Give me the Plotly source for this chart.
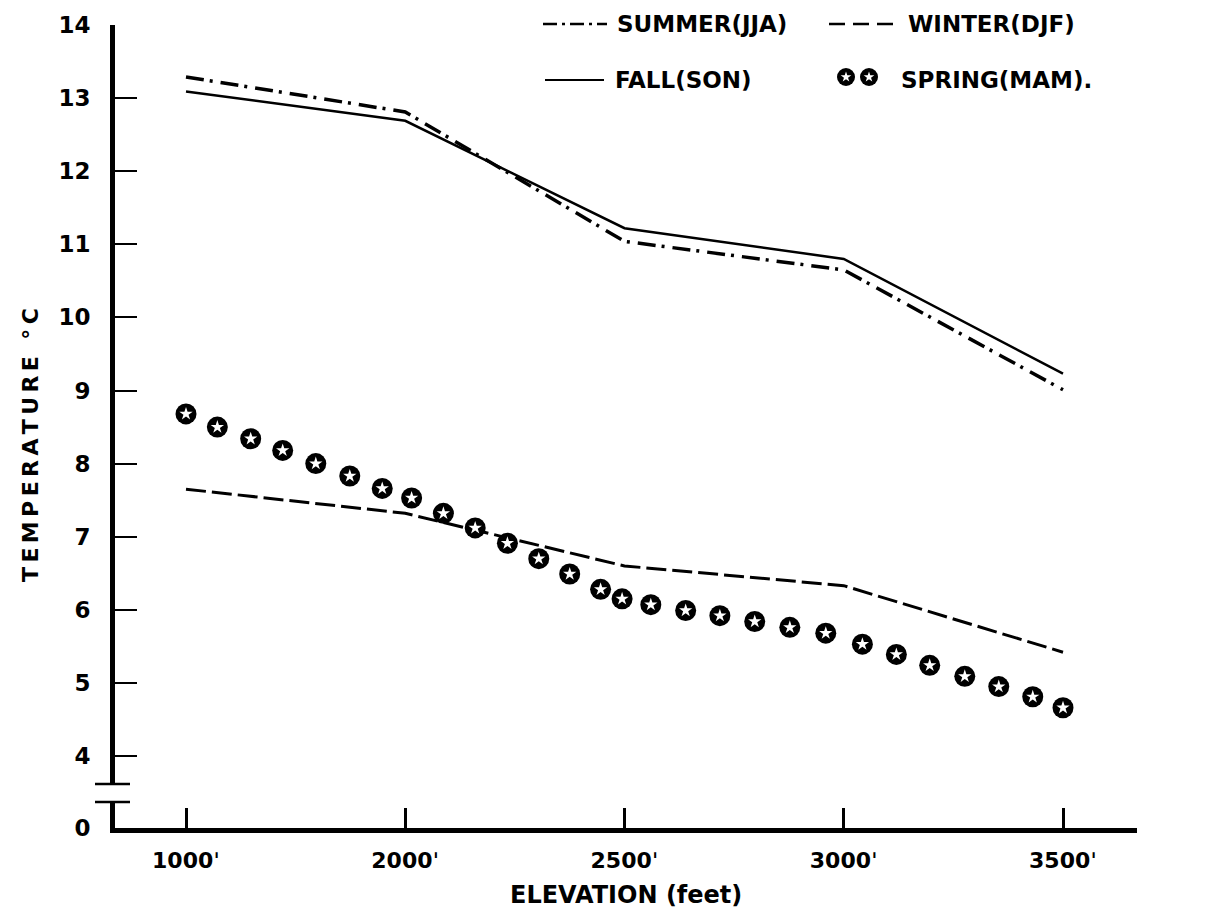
import plotly.graph_objects as go

# Elevation stations (equally spaced along the axis)
elev_labels = ["1000ˈ", "2000ˈ", "2500ˈ", "3000ˈ", "3500ˈ"]
elev_pos = [0, 1, 2, 3, 4]

# Seasonal mean temperatures (deg C) at each station
summer_jja = [13.29, 12.81, 11.04, 10.65, 9.01]
fall_son = [13.09, 12.69, 11.22, 10.80, 9.23]
winter_djf = [7.65, 7.32, 6.60, 6.33, 5.42]

# Spring curve, plotted as a string of symbols along the axis
spring_pos = [0.0, 0.143, 0.295, 0.441, 0.592, 0.747, 0.895, 1.029, 1.174, 1.319,
              1.466, 1.609, 1.750, 1.891, 1.989, 2.120, 2.279, 2.435, 2.594, 2.754,
              2.918, 3.085, 3.240, 3.392, 3.552, 3.707, 3.862, 4.0]
spring_mam = [8.68, 8.50, 8.34, 8.18, 8.00, 7.83, 7.66, 7.53, 7.32, 7.12,
              6.91, 6.70, 6.49, 6.28, 6.15, 6.07, 5.99, 5.92, 5.84, 5.76,
              5.68, 5.53, 5.39, 5.24, 5.09, 4.95, 4.81, 4.66]

y_ticks = [4, 5, 6, 7, 8, 9, 10, 11, 12, 13, 14]

FONT = "DejaVu Sans, Verdana, sans-serif"
W, H = 1221, 911
L, R, T, B = 115, 84, 25, 83
PW, PH = W - L - R, H - T - B

def px_x(px):
    return (px - L) / PW

def px_y(py):
    return (H - B - py) / PH

def spaced(text, gap="\u2009"):
    # open up the lettering of a title
    return gap.join(text)

fig = go.Figure()

fig.add_trace(go.Scatter(
    x=elev_pos, y=summer_jja, mode="lines", name="SUMMER(JJA)",
    line=dict(color="black", width=3.5, dash="18px,6px,3px,8px"),
    xaxis="x", yaxis="y"))
fig.add_trace(go.Scatter(
    x=elev_pos, y=fall_son, mode="lines", name="FALL(SON)",
    line=dict(color="black", width=2.5),
    xaxis="x", yaxis="y"))
fig.add_trace(go.Scatter(
    x=elev_pos, y=winter_djf, mode="lines", name="WINTER(DJF)",
    line=dict(color="black", width=3, dash="20px,6px"),
    xaxis="x", yaxis="y"))
fig.add_trace(go.Scatter(
    x=spring_pos, y=spring_mam, mode="markers", name="SPRING(MAM)",
    marker=dict(symbol="circle", size=21, color="black", line=dict(width=0)),
    xaxis="x", yaxis="y", cliponaxis=False))
fig.add_trace(go.Scatter(
    x=spring_pos, y=spring_mam, mode="markers", showlegend=False,
    marker=dict(symbol="star", size=10, color="white", line=dict(width=0)),
    xaxis="x", yaxis="y", cliponaxis=False))

# Lower stub of the broken temperature axis (carries the 0 label)
fig.add_trace(go.Scatter(
    x=[elev_pos[0]], y=[0], mode="markers", showlegend=False,
    marker=dict(size=1, opacity=0), hoverinfo="skip",
    xaxis="x", yaxis="y2"))

# Key glyphs for spring (two starred circles), drawn on a full-area overlay axis
key_x = [px_x(846), px_x(869)]
key_y = [px_y(80), px_y(80)]
fig.add_trace(go.Scatter(
    x=key_x, y=key_y, mode="markers", showlegend=False,
    marker=dict(symbol="circle", size=18, color="black"),
    xaxis="x3", yaxis="y3", cliponaxis=False))
fig.add_trace(go.Scatter(
    x=key_x, y=key_y, mode="markers", showlegend=False,
    marker=dict(symbol="star", size=8, color="white"),
    xaxis="x3", yaxis="y3", cliponaxis=False))

break_frac = px_y(784)
low_top = px_y(802)
upper_bottom_val = 14 - (784 - T) / 73.1

fig.update_layout(
    width=W, height=H,
    margin=dict(l=L, r=R, t=T, b=B),
    paper_bgcolor="white", plot_bgcolor="white",
    showlegend=False,
    font=dict(family=FONT, color="black", size=22, weight="bold"),
    xaxis=dict(
        domain=[0, 1], anchor="y2",
        range=[(L - 186) / 219.25, (W - R - 186) / 219.25],
        tickvals=elev_pos, ticktext=elev_labels,
        ticks="inside", ticklen=20, tickwidth=2.5, tickcolor="black",
        showline=True, linewidth=5, linecolor="black",
        showgrid=False, zeroline=False,
        tickfont=dict(size=22, family=FONT, weight="bold"),
        ticklabelstandoff=9,
    ),
    yaxis=dict(
        domain=[break_frac, 1], anchor="x",
        range=[upper_bottom_val, 14],
        tickvals=y_ticks, ticktext=[str(v) for v in y_ticks],
        ticks="inside", ticklen=22, tickwidth=2, tickcolor="black",
        showline=True, linewidth=5, linecolor="black",
        showgrid=False, zeroline=False,
        tickfont=dict(size=23, family=FONT, weight="bold"),
        ticklabelstandoff=15,
    ),
    yaxis2=dict(
        domain=[0, low_top], anchor="x",
        range=[0, (828 - 802) / 73.1],
        tickvals=[0], ticktext=["0"], ticks="",
        showline=True, linewidth=5, linecolor="black",
        showgrid=False, zeroline=False,
        tickfont=dict(size=23, family=FONT, weight="bold"),
        ticklabelstandoff=15,
    ),
    xaxis3=dict(domain=[0, 1], range=[0, 1], visible=False, overlaying="x",
                anchor="y3"),
    yaxis3=dict(domain=[0, 1], range=[0, 1], visible=False, overlaying="y",
                anchor="x3"),
)

shapes = []
# axis break marks
for py in (784, 802):
    shapes.append(dict(type="line", xref="paper", yref="paper",
                       x0=px_x(95), x1=px_x(130), y0=px_y(py), y1=px_y(py),
                       line=dict(color="black", width=2.5)))
# key line samples
shapes.append(dict(type="line", xref="paper", yref="paper",
                   x0=px_x(543), x1=px_x(607), y0=px_y(24), y1=px_y(24),
                   line=dict(color="black", width=2.5, dash="14px,5px,3px,5px")))
shapes.append(dict(type="line", xref="paper", yref="paper",
                   x0=px_x(829), x1=px_x(893), y0=px_y(24), y1=px_y(24),
                   line=dict(color="black", width=2.5, dash="16px,8px")))
shapes.append(dict(type="line", xref="paper", yref="paper",
                   x0=px_x(545), x1=px_x(604), y0=px_y(80), y1=px_y(80),
                   line=dict(color="black", width=2)))
fig.update_layout(shapes=shapes)

annotations = []
for text, px, py in [("SUMMER(JJA)", 615, 24), ("WINTER(DJF)", 906, 24),
                     ("FALL(SON)", 613, 80), ("SPRING(MAM).", 899, 80)]:
    annotations.append(dict(text=text, xref="paper", yref="paper",
                            x=px_x(px), y=px_y(py), xanchor="left", yanchor="middle",
                            showarrow=False,
                            font=dict(size=23, family=FONT, weight="bold")))
annotations.append(dict(text="ELEVATION (feet)", xref="paper", yref="paper",
                        x=px_x(626), y=px_y(895), xanchor="center", yanchor="middle",
                        showarrow=False,
                        font=dict(size=24, family=FONT, weight="bold")))
annotations.append(dict(text=spaced("TEMPERATURE °C"), xref="paper", yref="paper",
                        x=px_x(30), y=px_y(445), xanchor="center", yanchor="middle",
                        textangle=-90, showarrow=False,
                        font=dict(size=22, family=FONT, weight="bold")))
fig.update_layout(annotations=annotations)

fig.write_html("out.html")
